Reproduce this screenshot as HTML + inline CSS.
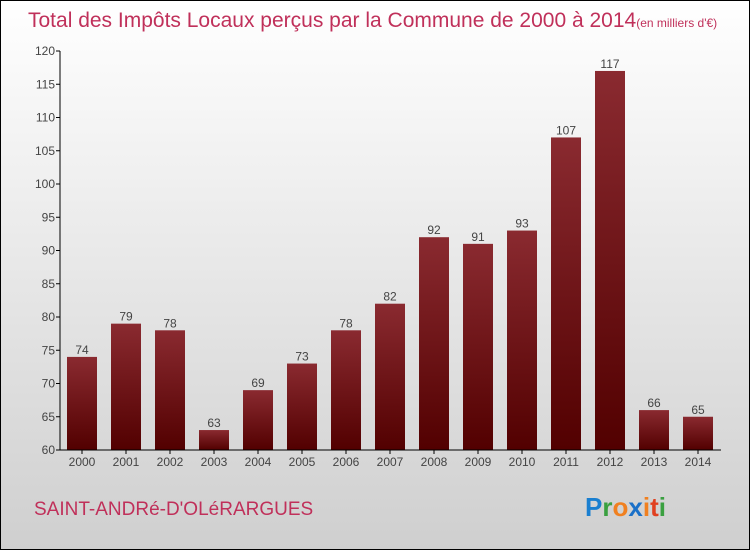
<!DOCTYPE html>
<html><head><meta charset="utf-8"><style>
body{margin:0;}
#c{width:750px;height:550px;position:relative;overflow:hidden;}
svg text{font-family:"Liberation Sans",sans-serif;}
</style></head><body>
<div id="c">
<svg id="s" width="750" height="550" xmlns="http://www.w3.org/2000/svg">
<defs>
<linearGradient id="bg" x1="0" y1="0" x2="0" y2="1"><stop offset="0" stop-color="#ffffff"/><stop offset="1" stop-color="#cfcfcf"/></linearGradient>
<linearGradient id="bar" x1="0" y1="0" x2="0" y2="1"><stop offset="0" stop-color="#8a2a30"/><stop offset="1" stop-color="#520000"/></linearGradient>
</defs>
<rect x="0.5" y="0.5" width="749" height="549" fill="url(#bg)" stroke="#000"/>
<text x="28" y="27" font-size="21" fill="#c0305a">Total des Impôts Locaux perçus par la Commune de 2000 à 2014<tspan font-size="12">(en milliers d'€)</tspan></text>
<text x="34" y="515" font-size="19" fill="#c0305a">SAINT-ANDRé-D'OLéRARGUES</text>
<text x="585" y="516" font-size="26" font-weight="bold"><tspan fill="#1a7fd0">P</tspan><tspan fill="#3aa040">r</tspan><tspan fill="#f08020">o</tspan><tspan fill="#1a70c8">x</tspan><tspan fill="#f08020">i</tspan><tspan fill="#e04020">t</tspan><tspan fill="#3aa040">i</tspan></text>
<g id="g"></g>
</svg>
</div>
<script>
const years=["2000","2001","2002","2003","2004","2005","2006","2007","2008","2009","2010","2011","2012","2013","2014"];
const values=[74,79,78,63,69,73,78,82,92,91,93,107,117,66,65];
const ticks=[60,65,70,75,80,85,90,95,100,105,110,115,120];
const g=document.getElementById('g');
const NS="http://www.w3.org/2000/svg";
const y=v=>450-(v-60)*(399/60);
const x=i=>82+i*44;
function mk(t,a){const e=document.createElementNS(NS,t);for(const k in a)e.setAttribute(k,a[k]);g.appendChild(e);return e;}
ticks.forEach(t=>{
 const l=mk('line',{x1:56,x2:60,y1:y(t),y2:y(t),stroke:'#000'});
 
 
 const tx=mk('text',{x:55,y:y(t)+4,'text-anchor':'end','font-size':12,fill:'#444'});
 tx.textContent=t;
 
 
});
years.forEach((yr,i)=>{
 const v=values[i];
 const r=mk('rect',{x:x(i)-15,y:y(v),width:30,height:450-y(v),fill:'url(#bar)'});
 
 
 const vl=mk('text',{x:x(i),y:y(v)-3,'text-anchor':'middle','font-size':12,fill:'#444'});
 vl.textContent=v;
 
 
 const tk=mk('line',{x1:x(i),x2:x(i),y1:450,y2:454,stroke:'#000'});
 
 
 const xl=mk('text',{x:x(i),y:466,'text-anchor':'middle','font-size':12,fill:'#444'});
 xl.textContent=yr;
 
 
});
const ya=mk('line',{x1:60,x2:60,y1:51,y2:450,stroke:'#000'});


const xa=mk('line',{x1:60,x2:721,y1:450,y2:450,stroke:'#000'});


</script>
</body></html>
